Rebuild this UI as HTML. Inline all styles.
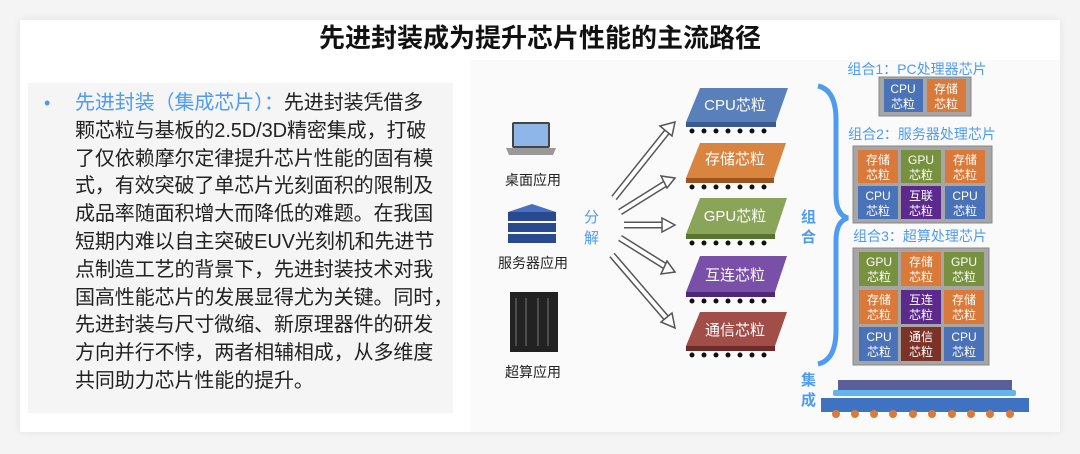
<!DOCTYPE html>
<html><head><meta charset="utf-8"><style>
body{margin:0;width:1080px;height:454px;background:#f4f4f4;font-family:"Liberation Sans","Noto Sans CJK SC",sans-serif;overflow:hidden;position:relative}
.card{position:absolute;left:20px;top:20px;width:1040px;height:412px;background:#fff;box-shadow:0 0 8px rgba(0,0,0,0.08)}
.title{position:absolute;left:0;top:21px;width:1080px;text-align:center;font-size:26px;line-height:34px;font-weight:bold;color:#111}
.panel{position:absolute;left:28px;top:83px;width:425px;height:330px;background:#f5f5f5}
.txt{position:absolute;left:75px;top:90px;font-size:20px;line-height:27.8px;color:#222;white-space:nowrap;letter-spacing:-0.1px}
.dot{position:absolute;left:44px;top:90px;font-size:18px;line-height:27.8px;color:#4f9bf0}
.blue{color:#4f9bf0}
svg{position:absolute;left:0;top:0}
</style></head><body>
<div class="card"></div>
<div class="title">先进封装成为提升芯片性能的主流路径</div>
<div class="panel"></div>
<div class="dot">•</div>
<div class="txt"><span class="blue">先进封装（集成芯片）：</span>先进封装凭借多<br>颗芯粒与基板的2.5D/3D精密集成，打破<br>了仅依赖摩尔定律提升芯片性能的固有模<br>式，有效突破了单芯片光刻面积的限制及<br>成品率随面积增大而降低的难题。在我国<br>短期内难以自主突破EUV光刻机和先进节<br>点制造工艺的背景下，先进封装技术对我<br>国高性能芯片的发展显得尤为关键。同时，<br>先进封装与尺寸微缩、新原理器件的研发<br>方向并行不悖，两者相辅相成，从多维度<br>共同助力芯片性能的提升。</div>
<svg width="1080" height="454" font-family="Liberation Sans, Noto Sans CJK SC, sans-serif">
<rect x="470" y="60" width="590" height="372" fill="#fafafa"/>
<rect x="512" y="122" width="38" height="26" rx="2" fill="#444"/>
<rect x="514" y="124" width="34" height="22" fill="#8fb6e8"/>
<path d="M506 148 L556 148 L553 155 L509 155 Z" fill="#999"/>
<g fill="#2a4a8f">
<path d="M508 212 L532 204 L556 212 L532 219 Z" fill="#4b6fc0"/>
<rect x="508" y="212" width="48" height="9"/><rect x="508" y="223" width="48" height="9"/><rect x="508" y="234" width="48" height="9"/>
</g>
<rect x="510" y="292" width="48" height="60" fill="#222"/>
<g stroke="#777" stroke-width="1"><line x1="516" y1="298" x2="516" y2="346"/><line x1="526" y1="298" x2="526" y2="346"/><line x1="538" y1="298" x2="538" y2="346"/><line x1="548" y1="298" x2="548" y2="346"/></g>
<g font-size="14" fill="#222" text-anchor="middle">
<text x="533" y="185">桌面应用</text><text x="533" y="268">服务器应用</text><text x="533" y="377">超算应用</text></g>
<g font-size="15" fill="#4f9bf0"><text x="584" y="222">分</text><text x="584" y="243">解</text></g>
<g stroke="#555" stroke-width="7" fill="none">
<path d="M614 198 L670 128"/><path d="M620 212 L668 182"/><path d="M624 225 L668 225"/><path d="M620 238 L668 268"/><path d="M612 255 L668 320"/>
</g>
<g stroke="#fff" stroke-width="4" fill="none">
<path d="M614 198 L670 128"/><path d="M620 212 L668 182"/><path d="M624 225 L668 225"/><path d="M620 238 L668 268"/><path d="M612 255 L668 320"/>
</g>
<g fill="#fff" stroke="#555" stroke-width="1.5">
<polygon points="675,122 660,126 672,136"/>
<polygon points="675,178 661,176 667,188"/>
<polygon points="675,225 662,218 662,232"/>
<polygon points="675,272 667,261 661,274"/>
<polygon points="675,328 672,313 661,322"/>
</g>
<g font-size="15" fill="#fff" text-anchor="middle">
<g><polygon points="686,122 700,88 788,88 776,122" fill="#5a80bb"/><rect x="686" y="122" width="90" height="5" fill="#3a5a90"/><text x="735" y="110">CPU芯粒</text></g>
<g><polygon points="686,178 700,143 786,143 774,178" fill="#d9843f"/><rect x="686" y="178" width="88" height="5" fill="#9a5520"/><text x="735" y="164">存储芯粒</text></g>
<g><polygon points="686,234 700,198 787,198 775,234" fill="#8aa45a"/><rect x="686" y="234" width="89" height="5" fill="#5a7330"/><text x="735" y="221">GPU芯粒</text></g>
<g><polygon points="686,292 700,256 787,256 775,292" fill="#7a4fa8"/><rect x="686" y="292" width="89" height="5" fill="#4d2a78"/><text x="735" y="280">互连芯粒</text></g>
<g><polygon points="686,346 700,312 787,312 775,346" fill="#a14d48"/><rect x="686" y="346" width="89" height="5" fill="#6c2a28"/><text x="735" y="335">通信芯粒</text></g>
</g>
<g fill="#111">
<circle cx="692" cy="131" r="2.5"/><circle cx="704" cy="131" r="2.5"/><circle cx="716" cy="131" r="2.5"/><circle cx="728" cy="131" r="2.5"/><circle cx="740" cy="131" r="2.5"/><circle cx="752" cy="131" r="2.5"/><circle cx="764" cy="131" r="2.5"/>
<circle cx="692" cy="187" r="2.5"/><circle cx="704" cy="187" r="2.5"/><circle cx="716" cy="187" r="2.5"/><circle cx="728" cy="187" r="2.5"/><circle cx="740" cy="187" r="2.5"/><circle cx="752" cy="187" r="2.5"/><circle cx="764" cy="187" r="2.5"/>
<circle cx="692" cy="243" r="2.5"/><circle cx="704" cy="243" r="2.5"/><circle cx="716" cy="243" r="2.5"/><circle cx="728" cy="243" r="2.5"/><circle cx="740" cy="243" r="2.5"/><circle cx="752" cy="243" r="2.5"/><circle cx="764" cy="243" r="2.5"/>
<circle cx="692" cy="301" r="2.5"/><circle cx="704" cy="301" r="2.5"/><circle cx="716" cy="301" r="2.5"/><circle cx="728" cy="301" r="2.5"/><circle cx="740" cy="301" r="2.5"/><circle cx="752" cy="301" r="2.5"/><circle cx="764" cy="301" r="2.5"/>
<circle cx="692" cy="355" r="2.5"/><circle cx="704" cy="355" r="2.5"/><circle cx="716" cy="355" r="2.5"/><circle cx="728" cy="355" r="2.5"/><circle cx="740" cy="355" r="2.5"/><circle cx="752" cy="355" r="2.5"/><circle cx="764" cy="355" r="2.5"/>
</g>
<path d="M818 86 Q836 90 836 120 L836 195 Q836 215 848 218 Q836 221 836 241 L836 330 Q836 360 818 364" stroke="#4f9bf0" stroke-width="5" fill="none"/>
<g font-size="15" fill="#4f9bf0" font-weight="bold"><text x="801" y="222">组</text><text x="801" y="242">合</text><text x="801" y="385">集</text><text x="801" y="405">成</text></g>
<g font-size="14" fill="#4f9bf0" text-anchor="middle"><text x="917" y="74">组合1：PC处理器芯片</text><text x="922" y="139">组合2：服务器处理芯片</text><text x="920" y="241">组合3：超算处理芯片</text></g>
<rect x="879" y="77" width="92" height="39" fill="#a6a6a6" stroke="#888"/>
<rect x="853" y="146" width="139" height="77" fill="#a6a6a6" stroke="#888"/>
<rect x="853" y="248" width="136" height="117" fill="#a6a6a6" stroke="#888"/>
<g font-size="12" fill="#fff" text-anchor="middle">
<rect x="884" y="79" width="39" height="33" fill="#4a72b8"/><text x="903" y="93">CPU</text><text x="903" y="108">芯粒</text>
<rect x="927" y="79" width="39" height="33" fill="#d9793a"/><text x="946" y="93">存储</text><text x="946" y="108">芯粒</text>
<rect x="858" y="150" width="40" height="33" fill="#d9793a"/><text x="878" y="164">存储</text><text x="878" y="179">芯粒</text>
<rect x="901" y="150" width="40" height="33" fill="#77913f"/><text x="921" y="164">GPU</text><text x="921" y="179">芯粒</text>
<rect x="945" y="150" width="40" height="33" fill="#d9793a"/><text x="965" y="164">存储</text><text x="965" y="179">芯粒</text>
<rect x="858" y="186" width="40" height="33" fill="#4a72b8"/><text x="878" y="200">CPU</text><text x="878" y="215">芯粒</text>
<rect x="901" y="186" width="40" height="33" fill="#5b2a8c"/><text x="921" y="200">互联</text><text x="921" y="215">芯粒</text>
<rect x="945" y="186" width="40" height="33" fill="#4a72b8"/><text x="965" y="200">CPU</text><text x="965" y="215">芯粒</text>
<rect x="859" y="252" width="39" height="34" fill="#77913f"/><text x="879" y="266">GPU</text><text x="879" y="281">芯粒</text>
<rect x="901" y="252" width="40" height="34" fill="#d9793a"/><text x="921" y="266">存储</text><text x="921" y="281">芯粒</text>
<rect x="944" y="252" width="40" height="34" fill="#77913f"/><text x="964" y="266">GPU</text><text x="964" y="281">芯粒</text>
<rect x="859" y="290" width="39" height="34" fill="#d9793a"/><text x="879" y="304">存储</text><text x="879" y="319">芯粒</text>
<rect x="901" y="290" width="40" height="34" fill="#5b2a8c"/><text x="921" y="304">互连</text><text x="921" y="319">芯粒</text>
<rect x="944" y="290" width="40" height="34" fill="#d9793a"/><text x="964" y="304">存储</text><text x="964" y="319">芯粒</text>
<rect x="859" y="327" width="39" height="34" fill="#4a72b8"/><text x="879" y="341">CPU</text><text x="879" y="356">芯粒</text>
<rect x="901" y="327" width="40" height="34" fill="#7b3328"/><text x="921" y="341">通信</text><text x="921" y="356">芯粒</text>
<rect x="944" y="327" width="40" height="34" fill="#4a72b8"/><text x="964" y="341">CPU</text><text x="964" y="356">芯粒</text>
</g>
<rect x="838" y="380" width="174" height="10" fill="#5a5f9a"/>
<rect x="833" y="390" width="183" height="6" rx="2" fill="#5fb6ea"/>
<rect x="821" y="398" width="208" height="14" fill="#3f73c2"/>
<g fill="#d9793a"><circle cx="836" cy="414" r="4"/><circle cx="855" cy="414" r="4"/><circle cx="874" cy="414" r="4"/><circle cx="893" cy="414" r="4"/><circle cx="913" cy="414" r="4"/><circle cx="932" cy="414" r="4"/><circle cx="952" cy="414" r="4"/><circle cx="971" cy="414" r="4"/><circle cx="990" cy="414" r="4"/><circle cx="1010" cy="414" r="4"/></g>
</svg>
</body></html>
